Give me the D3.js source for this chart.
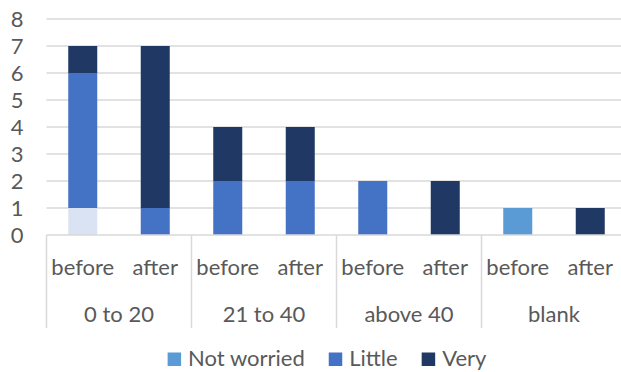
<!DOCTYPE html>
<html>
<head>
<meta charset="utf-8">
<script src="https://cdn.jsdelivr.net/npm/d3@7"></script>
<style>
  html, body { margin: 0; padding: 0; background: #fff; }
  svg { display: block; }
  text { font-family: Lato, "Open Sans", sans-serif; fill: #595959; }
</style>
</head>
<body>
<svg id="chart" width="621" height="372"></svg>
<script>
// Age groups, and the two survey moments inside each group
const groups = ["0 to 20", "21 to 40", "above 40", "blank"];
const moments = ["before", "after"];

// Worry level series, stacked bottom to top
const seriesNames = ["Not worried", "Little", "Very"];
const seriesColors = ["#5b9bd5", "#4472c4", "#203864"];

// Counts per bar, ordered group by group: before, after
const notWorried = [1, 0, 0, 0, 0, 0, 1, 0];
const little     = [5, 1, 2, 2, 2, 0, 0, 0];
const very       = [1, 6, 2, 2, 0, 2, 0, 1];

// A single point with its own fill (first bar, "Not worried")
const pointFills = [{ series: "Not worried", index: 0, fill: "#dae3f3" }];

const yTicks = [0, 1, 2, 3, 4, 5, 6, 7, 8];

const svg = d3.select("#chart");
const fontSize = 22;
const plot = { left: 46.5, right: 626.5, top: 19, bottom: 235 };

// Rows for stacking
const rows = [];
groups.forEach((g, gi) => moments.forEach((m, mi) => {
  const i = gi * 2 + mi;
  rows.push({ group: g, moment: m, i,
    "Not worried": notWorried[i], "Little": little[i], "Very": very[i] });
}));

const stack = d3.stack().keys(seriesNames)(rows);

const x0 = d3.scaleBand().domain(groups).range([plot.left, plot.right]).padding(0);
const x1 = d3.scaleBand().domain(moments).range([0, x0.bandwidth()])
  .paddingInner(0.6).paddingOuter(0.3);
const y = d3.scaleLinear().domain([0, 8]).range([plot.bottom, plot.top]);
const color = d3.scaleOrdinal().domain(seriesNames).range(seriesColors);

// Horizontal gridlines
svg.append("g").selectAll("line").data(yTicks.filter(d => d > 0)).join("line")
  .attr("x1", plot.left).attr("x2", plot.right)
  .attr("y1", d => y(d)).attr("y2", d => y(d))
  .attr("stroke", "#d9d9d9").attr("stroke-width", 1.5);

// Y axis labels
svg.append("g").selectAll("text").data(yTicks).join("text")
  .attr("x", 23.5).attr("y", d => y(d)).attr("dy", "0.36em")
  .attr("text-anchor", "end").attr("font-size", fontSize)
  .text(d => d);

// Stacked bars
const fillFor = (key, idx) => {
  const o = pointFills.find(p => p.series === key && p.index === idx);
  return o ? o.fill : color(key);
};
svg.append("g").selectAll("g").data(stack).join("g")
  .each(function (layer) {
    d3.select(this).selectAll("rect").data(layer.filter(d => d[1] > d[0])).join("rect")
      .attr("x", d => x0(d.data.group) + x1(d.data.moment))
      .attr("width", x1.bandwidth())
      .attr("y", d => y(d[1]))
      .attr("height", d => y(d[0]) - y(d[1]))
      .attr("fill", d => fillFor(layer.key, d.data.i));
  });

// Category axis: baseline and group separators
const axis = svg.append("g");
axis.append("line")
  .attr("x1", plot.left).attr("x2", plot.right)
  .attr("y1", plot.bottom).attr("y2", plot.bottom)
  .attr("stroke", "#d9d9d9").attr("stroke-width", 1.5);
const seps = groups.map(g => x0(g)).concat([x0(groups[groups.length - 1]) + x0.bandwidth()]);
axis.selectAll("line.sep").data(seps).join("line").attr("class", "sep")
  .attr("x1", d => d).attr("x2", d => d)
  .attr("y1", plot.bottom).attr("y2", 328)
  .attr("stroke", "#d9d9d9").attr("stroke-width", 1.5);

// Inner labels: before / after
axis.selectAll("text.moment").data(rows).join("text").attr("class", "moment")
  .attr("x", d => x0(d.group) + x1(d.moment) + x1.bandwidth() / 2)
  .attr("y", 275).attr("text-anchor", "middle").attr("font-size", fontSize)
  .text(d => d.moment);

// Outer labels: age groups
axis.selectAll("text.group").data(groups).join("text").attr("class", "group")
  .attr("x", d => x0(d) + x0.bandwidth() / 2)
  .attr("y", 322).attr("text-anchor", "middle").attr("font-size", fontSize)
  .text(d => d);

// Legend, centered as a row
const legend = svg.append("g");
let cx = 0;
seriesNames.forEach(name => {
  const g = legend.append("g");
  g.append("rect").attr("x", 0).attr("y", 352.5).attr("width", 13.5).attr("height", 13.5)
    .attr("fill", color(name));
  const t = g.append("text").attr("x", 20.5).attr("y", 366).attr("font-size", fontSize).text(name);
  const w = 20.5 + t.node().getComputedTextLength();
  g.attr("transform", `translate(${cx},0)`);
  cx += w + 24;
});
const total = cx - 24;
legend.attr("transform", `translate(${327 - total / 2},0)`);
</script>
</body>
</html>
